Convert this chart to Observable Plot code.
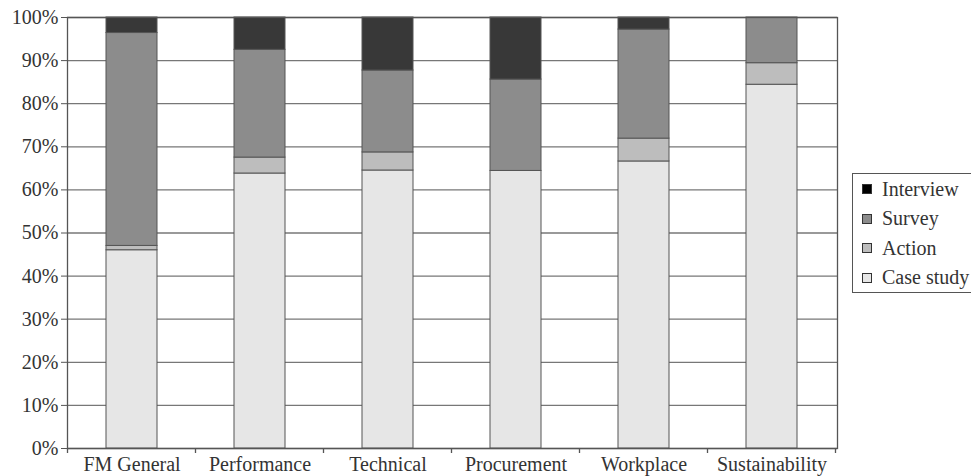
<!DOCTYPE html>
<html>
<head>
<meta charset="utf-8">
<script src="https://cdn.jsdelivr.net/npm/d3@7"></script>
<script src="https://cdn.jsdelivr.net/npm/@observablehq/plot@0.6"></script>
<style>
  html, body { margin: 0; padding: 0; background: #fff; }
  #wrap { position: relative; width: 971px; height: 476px; overflow: hidden; font-family: "Liberation Serif", "Times New Roman", serif; }
  #legend { position: absolute; left: 852px; top: 173px; width: 130px; height: 120px; border: 1px solid #555; box-sizing: border-box; background: #fff; }
  .row { position: absolute; left: 9px; height: 24px; display: flex; align-items: center; font-size: 20px; color: #333; white-space: nowrap; }
  .sw { width: 8px; height: 8px; border: 1px solid #333; margin-right: 10px; }
</style>
</head>
<body>
<div id="wrap"><div id="legend"></div></div>
<script>
const categories = ["FM General", "Performance", "Technical", "Procurement", "Workplace", "Sustainability"];
const seriesNames = ["Case study", "Action", "Survey", "Interview"];
const seriesColors = ["#e6e6e6", "#bdbdbd", "#8c8c8c", "#383838"];
const caseStudy = [46.0, 63.8, 64.5, 64.4, 66.6, 84.4];
const action    = [1.0, 3.7, 4.2, 0, 5.3, 5.0];
const survey    = [49.4, 25.0, 19.0, 21.2, 25.3, 10.6];
const interview = [3.6, 7.5, 12.3, 14.4, 2.8, 0];
const yTicks = [0, 10, 20, 30, 40, 50, 60, 70, 80, 90, 100];

const seriesValues = [caseStudy, action, survey, interview];
const data = [];
categories.forEach((c, i) => {
  seriesNames.forEach((s, j) => {
    const v = seriesValues[j][i];
    if (v > 0) data.push({category: c, series: s, value: v});
  });
});

const font = "'Liberation Serif', 'Times New Roman', serif";
const chart = Plot.plot({
  width: 971,
  height: 476,
  marginLeft: 67,
  marginRight: 134,
  marginTop: 17,
  marginBottom: 28,
  style: {fontFamily: font, fontSize: "20px", color: "#333", background: "#fff"},
  x: {domain: categories, paddingInner: 0.6, paddingOuter: 0.3, label: null},
  y: {domain: [0, 100], label: null},
  color: {domain: seriesNames, range: seriesColors},
  marks: [
    Plot.ruleY(yTicks, {stroke: "#777", strokeWidth: 1.3}),
    Plot.barY(data, Plot.stackY({x: "category", y: "value", fill: "series", order: seriesNames, stroke: "#555", strokeWidth: 1})),
    Plot.frame({stroke: "#555", strokeWidth: 1.3}),
    Plot.axisY({ticks: yTicks, tickFormat: d => d + "%", tickSize: 6, tickPadding: 3, stroke: "#555", fontSize: 20}),
    Plot.axisX({tickSize: 0, tickPadding: 8, fontSize: 20})
  ]
});

document.getElementById("wrap").prepend(chart);

// category boundary ticks along the bottom axis
const sx = chart.scale("x");
const sy = chart.scale("y");
const y0 = sy.apply(0);
const bounds = [];
categories.forEach((c, i) => {
  const center = sx.apply(c) + sx.bandwidth / 2;
  bounds.push(center - sx.step / 2);
  if (i === categories.length - 1) bounds.push(center + sx.step / 2);
});
d3.select(chart).append("g")
  .selectAll("line").data(bounds).join("line")
  .attr("x1", d => d).attr("x2", d => d)
  .attr("y1", y0).attr("y2", y0 + 5)
  .attr("stroke", "#555").attr("stroke-width", 1.3);

// legend
const legend = document.getElementById("legend");
const order = ["Interview", "Survey", "Action", "Case study"];
order.forEach((name, k) => {
  const row = document.createElement("div");
  row.className = "row";
  row.style.top = (3 + k * 29.5) + "px";
  const sw = document.createElement("span");
  sw.className = "sw";
  const idx = seriesNames.indexOf(name);
  sw.style.background = name === "Interview" ? "#000" : seriesColors[idx];
  row.appendChild(sw);
  row.appendChild(document.createTextNode(name));
  legend.appendChild(row);
});
</script>
</body>
</html>
